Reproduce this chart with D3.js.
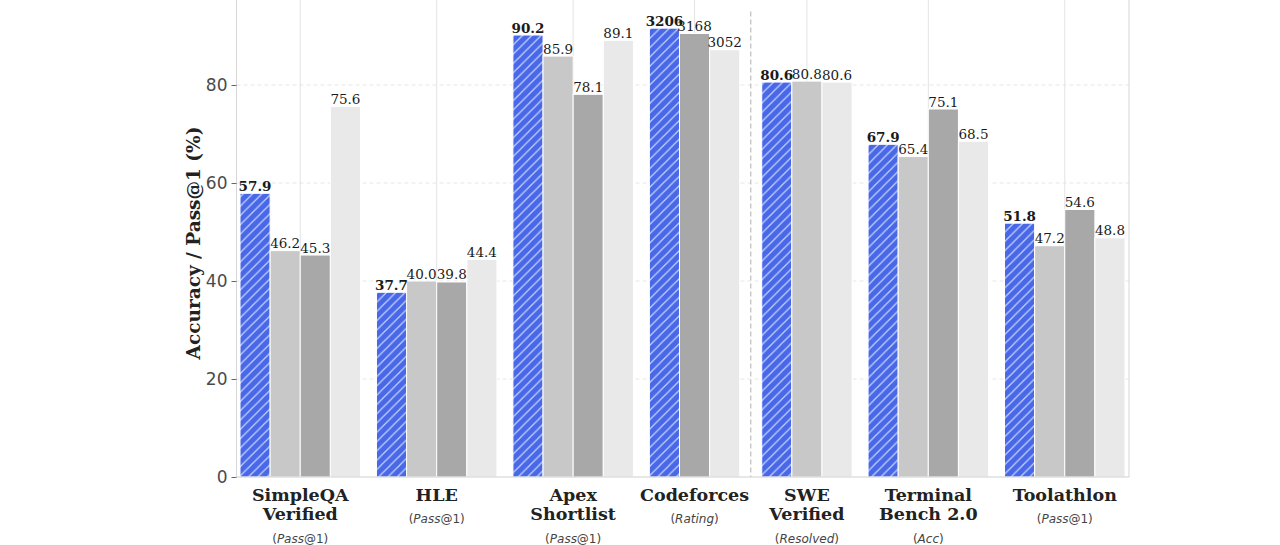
<!DOCTYPE html>
<html><head><meta charset="utf-8">
<script src="https://cdn.jsdelivr.net/npm/d3@7"></script>
<style>body{margin:0;background:#fff}svg{display:block}</style>
</head><body>
<svg id="chart" width="1280" height="545"></svg>
<script>
// ---- data ----
const categories = ["SimpleQA Verified", "HLE", "Apex Shortlist", "Codeforces", "SWE Verified", "Terminal Bench 2.0", "Toolathlon"];
const nameLines = [["SimpleQA","Verified"],["HLE"],["Apex","Shortlist"],["Codeforces"],["SWE","Verified"],["Terminal","Bench 2.0"],["Toolathlon"]];
const metrics = ["Pass@1","Pass@1","Pass@1","Rating","Resolved","Acc","Pass@1"];
const seriesA = [57.9, 37.7, 90.2, 3206, 80.6, 67.9, 51.8];
const seriesB = [46.2, 40.0, 85.9, null, 80.8, 65.4, 47.2];
const seriesC = [45.3, 39.8, 78.1, 3168, null, 75.1, 54.6];
const seriesD = [75.6, 44.4, 89.1, 3052, 80.6, 68.5, 48.8];
const ratingDivisor = 35;          // Codeforces ratings are drawn on the % axis as rating/35
const yTicks = [0, 20, 40, 60, 80];
const yMax = 100;
const separatorAfter = 3;          // dashed line after Codeforces

const series = [seriesA, seriesB, seriesC, seriesD];
const fills = ["url(#hatch)", "#c8c8c8", "#a8a8a8", "#e9e9e9"];

const svg = d3.select("#chart");
const defs = svg.append("defs");
const hp = 9.3;
const pat = defs.append("pattern").attr("id","hatch").attr("patternUnits","userSpaceOnUse")
  .attr("width",hp).attr("height",hp);
pat.append("rect").attr("width",hp).attr("height",hp).attr("fill","#4868e8");
pat.append("path").attr("d",`M-1,1 L1,-1 M0,${hp} L${hp},0 M${hp-1},${hp+1} L${hp+1},${hp-1}`)
  .attr("stroke","#c9d3ff").attr("stroke-width",1.2);

// ---- layout in bar-slot units ----
const gap = 0.53, extraGap = 0.2;
let cursor = 0;
const groups = categories.map((c, i) => {
  if (i > 0) cursor += gap + (i === separatorAfter + 1 ? extraGap : 0);
  const bars = [];
  series.forEach((s, k) => {
    const v = s[i];
    if (v === null) return;
    const scaled = metrics[i] === "Rating" ? v / ratingDivisor : v;
    bars.push({ k, v, scaled, u: cursor + bars.length, isRating: metrics[i] === "Rating" });
  });
  const g = { i, start: cursor, n: bars.length, bars };
  cursor += bars.length;
  g.end = cursor;
  return g;
});
const totalUnits = cursor;

const x = d3.scaleLinear().domain([0, totalUnits]).range([240, 1125]);
const y = d3.scaleLinear().domain([0, yMax]).range([477, 477 - 490]);
const plotL = 236.5, plotR = 1129;
const bw = x(1) - x(0);

// gridlines
const grid = svg.append("g");
grid.selectAll("line.h").data(yTicks.filter(t => t > 0)).join("line")
  .attr("x1", plotL).attr("x2", plotR).attr("y1", d => y(d)).attr("y2", d => y(d))
  .attr("stroke", "#e6e6e6").attr("stroke-width", 1).attr("stroke-dasharray", "4,3");
grid.selectAll("line.v").data(groups).join("line")
  .attr("x1", d => x((d.start + d.end) / 2)).attr("x2", d => x((d.start + d.end) / 2))
  .attr("y1", y(yMax)).attr("y2", y(0))
  .attr("stroke", "#e3e3e3").attr("stroke-width", 1);

// frame
svg.append("line").attr("x1", plotL).attr("x2", plotL).attr("y1", y(yMax)).attr("y2", y(0)).attr("stroke", "#d6d6d6");
svg.append("line").attr("x1", plotR).attr("x2", plotR).attr("y1", y(yMax)).attr("y2", y(0)).attr("stroke", "#d6d6d6");

// separator
const sepX = (x(groups[separatorAfter].end) + x(groups[separatorAfter + 1].start)) / 2;
svg.append("line").attr("x1", sepX).attr("x2", sepX).attr("y1", y(95)).attr("y2", y(0))
  .attr("stroke", "#bdbdbd").attr("stroke-width", 1.2).attr("stroke-dasharray", "5,3");

// bars
const allBars = groups.flatMap(g => g.bars);
svg.append("g").selectAll("rect").data(allBars).join("rect")
  .attr("x", d => x(d.u)).attr("width", bw)
  .attr("y", d => y(d.scaled)).attr("height", d => y(0) - y(d.scaled))
  .attr("fill", d => fills[d.k]).attr("stroke", "#fff").attr("stroke-width", 1);

// value labels
svg.append("g").selectAll("text").data(allBars).join("text")
  .attr("x", d => x(d.u + 0.5)).attr("y", d => y(d.scaled) - 2.5)
  .attr("text-anchor", "middle")
  .attr("font-family", "DejaVu Serif").attr("font-size", 13.5)
  .attr("font-weight", d => d.k === 0 ? "bold" : "normal")
  .attr("fill", "#1a1a1a")
  .text(d => d.isRating ? d3.format("d")(d.v) : d3.format(".1f")(d.v));

// bottom spine
svg.append("line").attr("x1", plotL).attr("x2", plotR).attr("y1", y(0)).attr("y2", y(0)).attr("stroke", "#cfcfcf").attr("stroke-width", 1.2);

// y axis
const yAxis = d3.axisLeft(y).tickValues(yTicks).tickSize(5).tickPadding(4).tickFormat(d3.format("d"));
const ya = svg.append("g").attr("transform", `translate(${plotL},0)`).call(yAxis);
ya.select(".domain").remove();
ya.selectAll(".tick line").attr("stroke", "#666");
ya.selectAll(".tick text").attr("font-family", "DejaVu Sans").attr("font-size", 17).attr("fill", "#4a4a4a");

svg.append("text").attr("transform", "translate(200,243) rotate(-90)")
  .attr("text-anchor", "middle").attr("font-family", "DejaVu Serif").attr("font-weight", "bold")
  .attr("font-size", 18.5).attr("fill", "#222").text("Accuracy / Pass@1 (%)");

// x labels
const xl = svg.append("g").selectAll("g").data(groups).join("g")
  .attr("transform", d => `translate(${x((d.start + d.end) / 2)},0)`);
xl.each(function(d) {
  const g = d3.select(this);
  const lines = nameLines[d.i];
  lines.forEach((ln, j) => {
    g.append("text").attr("y", 501 + j * 19).attr("text-anchor", "middle")
      .attr("font-family", "DejaVu Serif").attr("font-weight", "bold").attr("font-size", 17.5)
      .attr("fill", "#222").text(ln);
  });
  const m = metrics[d.i];
  const t = g.append("text").attr("y", 523 + (lines.length - 1) * 19.5).attr("text-anchor", "middle")
    .attr("font-family", "DejaVu Sans").attr("font-size", 12).attr("fill", "#444");
  const mm = m.match(/^([A-Za-z]+)(.*)$/);
  t.append("tspan").text("(");
  t.append("tspan").attr("font-style", "italic").text(mm[1]);
  t.append("tspan").text(mm[2] + ")");
});
</script>
</body></html>
